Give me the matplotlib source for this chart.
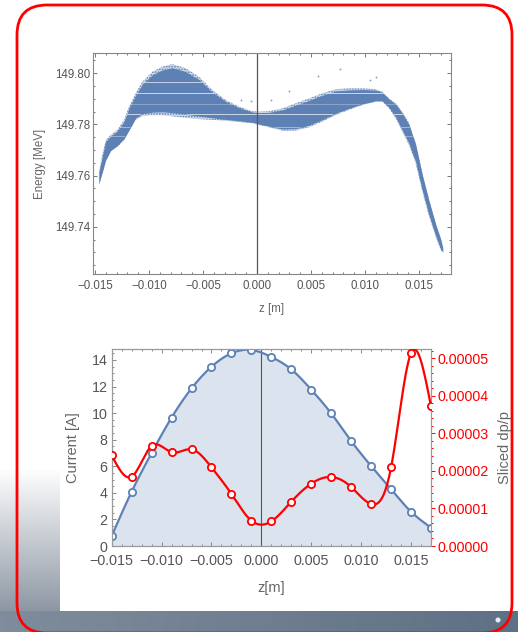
import numpy as np
import matplotlib
matplotlib.use("Agg")
import matplotlib.pyplot as plt
from matplotlib.patches import FancyBboxPatch, Circle
from matplotlib.ticker import MultipleLocator, FuncFormatter

plt.rcParams['font.family'] = ['Liberation Sans', 'DejaVu Sans']
plt.rcParams['hatch.linewidth'] = 0.8

# ---- longitudinal phase space: envelope of the particle cloud ----
band_z = [-0.01463, -0.01432, -0.01401, -0.01355, -0.01293, -0.01231, -0.01185,
          -0.01123, -0.01062, -0.00969, -0.00877, -0.00784, -0.00660, -0.00537,
          -0.00414, -0.00290, -0.00167, -0.00044, 0.00019, 0.00111, 0.00234,
          0.00358, 0.00481, 0.00605, 0.00729, 0.00852, 0.00975, 0.01099, 0.01160,
          0.01222, 0.01284, 0.01345, 0.01407, 0.01469, 0.01530, 0.01593, 0.01654,
          0.01701, 0.01720]
band_lo = [149.7565, 149.7609, 149.7655, 149.7694, 149.7713, 149.7739, 149.7772,
           149.7818, 149.7833, 149.7836, 149.7836, 149.7832, 149.7826, 149.7821,
           149.7818, 149.7814, 149.7810, 149.7805, 149.7798, 149.7789, 149.7776,
           149.7776, 149.7789, 149.7811, 149.7837, 149.7857, 149.7876, 149.7889,
           149.7889, 149.7863, 149.7824, 149.7772, 149.7720, 149.7648, 149.7538,
           149.7440, 149.7362, 149.7310, 149.7300]
band_hi = [149.7616, 149.7681, 149.7739, 149.7759, 149.7779, 149.7818, 149.7870,
           149.7922, 149.7967, 149.8006, 149.8026, 149.8036, 149.8020, 149.7987,
           149.7935, 149.7896, 149.7870, 149.7852, 149.7850, 149.7852, 149.7863,
           149.7883, 149.7902, 149.7922, 149.7938, 149.7941, 149.7941, 149.7938,
           149.7928, 149.7902, 149.7883, 149.7850, 149.7805, 149.7727, 149.7609,
           149.7505, 149.7414, 149.7355, 149.7320]
# isolated particles outside the dense core
stray_z = [0.00565, 0.00766, 0.01100, 0.00296, 0.00127, -0.00151, -0.00058, 0.01050]
stray_E = [149.7989, 149.8017, 149.7984, 149.7932, 149.7896, 149.7896, 149.7890, 149.7975]
# energy levels showing empty rows in the distribution
gap_levels = [149.7967, 149.7924, 149.7879, 149.7840, 149.7791, 149.7756]
gap_alpha = [0.9, 0.95, 0.4, 0.95, 0.6, 0.5]

# ---- slice analysis ----
slice_z = [-0.015, -0.013, -0.011, -0.009, -0.007, -0.005, -0.003, -0.001,
           0.001, 0.003, 0.005, 0.007, 0.009, 0.011, 0.013, 0.015, 0.017]
slice_current = [0.75, 4.09, 7.00, 9.66, 11.86, 13.49, 14.50, 14.75,
                 14.22, 13.29, 11.76, 9.98, 7.90, 6.02, 4.26, 2.58, 1.38]
slice_dpp = [2.415e-5, 1.847e-5, 2.664e-5, 2.495e-5, 2.575e-5, 2.096e-5, 1.385e-5,
             6.75e-6, 6.57e-6, 1.181e-5, 1.661e-5, 1.838e-5, 1.572e-5, 1.119e-5,
             2.096e-5, 5.14e-5, 3.72e-5]

BLUE = '#5e81b5'
RED = '#ff0000'
W, H = 518, 632


def natural_spline(x, y, xs):
    x = np.asarray(x, float)
    y = np.asarray(y, float)
    n = len(x)
    h = np.diff(x)
    A = np.zeros((n, n))
    r = np.zeros(n)
    A[0, 0] = A[-1, -1] = 1.0
    for i in range(1, n - 1):
        A[i, i - 1] = h[i - 1]
        A[i, i] = 2 * (h[i - 1] + h[i])
        A[i, i + 1] = h[i]
        r[i] = 6 * ((y[i + 1] - y[i]) / h[i] - (y[i] - y[i - 1]) / h[i - 1])
    M = np.linalg.solve(A, r)
    idx = np.clip(np.searchsorted(x, xs) - 1, 0, n - 2)
    x0, x1 = x[idx], x[idx + 1]
    hh = x1 - x0
    a = (x1 - xs) / hh
    b = (xs - x0) / hh
    return a * y[idx] + b * y[idx + 1] + ((a**3 - a) * M[idx] + (b**3 - b) * M[idx + 1]) * hh**2 / 6


def zfmt(v, p):
    if abs(v) < 1e-9:
        return '0.000'
    return f'{v:.3f}'.replace('-', '\u2212')


fig = plt.figure(figsize=(W / 100, H / 100), dpi=100)

# ---- slide background ----
bg = fig.add_axes([0, 0, 1, 1], zorder=-5)
img = np.ones((H, W, 3))
rows = np.arange(H)[:, None] * np.ones((1, W))
cols = np.ones((H, 1)) * np.arange(W)[None, :]
t = np.clip((rows - 468) / (611 - 468), 0, 1)
grad = np.array([0.55, 0.59, 0.64])
left = (cols < 60) & (rows >= 468) & (rows < 611)
s = cols / W
strip_l = np.array([0.50, 0.55, 0.61])
strip_r = np.array([0.37, 0.44, 0.52])
strip = rows >= 611
for c in range(3):
    ch = img[:, :, c]
    ch[left] = (1 - t * (1 - grad[c]))[left]
    ch[strip] = (strip_l[c] * (1 - s) + strip_r[c] * s)[strip]
bg.imshow(img, extent=(0, W, H, 0), aspect='auto', interpolation='bilinear')
bg.add_patch(FancyBboxPatch((17, 5), 495, 628, boxstyle='round,pad=0,rounding_size=30',
                            fill=False, ec=RED, lw=2.0))
bg.add_patch(Circle((498, 620), 1.8, color='#e8eef5'))
bg.set_xlim(0, W)
bg.set_ylim(H, 0)
bg.axis('off')

# ---- top panel: energy vs z ----
ax = fig.add_axes([92.7 / W, 1 - 274 / H, (450.7 - 92.7) / W, (274 - 53.3) / H])
bz = np.array(band_z)
lo = np.array(band_lo)
hi = np.array(band_hi)
width = hi - lo
# sparse fringe of the cloud, then the dense core
ax.fill_between(bz, lo, hi, facecolor=(0.37, 0.51, 0.71, 0.30), edgecolor=BLUE,
                hatch='......', lw=0)
core = ax.fill_between(bz, lo + 0.07 * width, hi - 0.07 * width, color=BLUE, lw=0)
core_path = core.get_paths()[0]
for lev, al in zip(gap_levels, gap_alpha):
    ln = ax.axhline(lev, color='white', lw=0.5, alpha=al)
    ln.set_clip_path(core_path, core.get_transform())
ax.plot(stray_z, stray_E, 'o', ms=1.3, mew=0, color=BLUE, alpha=0.8)
ax.axvline(0, color='#555555', lw=0.9)
ax.set_xlim(-0.01521, 0.01793)
ax.set_ylim(149.7216, 149.8078)
ax.xaxis.set_major_locator(MultipleLocator(0.005))
ax.xaxis.set_minor_locator(MultipleLocator(0.001))
ax.yaxis.set_major_locator(MultipleLocator(0.02))
ax.yaxis.set_minor_locator(MultipleLocator(0.005))
ax.xaxis.set_major_formatter(FuncFormatter(zfmt))
ax.yaxis.set_major_formatter(FuncFormatter(lambda v, p: f'{v:.2f}'))
ax.tick_params(which='both', direction='in', top=True, right=True, color='#777777',
               labelcolor='#555555', labelsize=8.3, width=0.7)
ax.tick_params(which='major', length=3.2)
ax.tick_params(which='minor', length=1.6)
ax.tick_params(axis='y', pad=1.5)
ax.tick_params(axis='x', pad=4)
for sp in ax.spines.values():
    sp.set_color('#888888')
    sp.set_linewidth(0.8)
ax.set_xlabel('z [m]', fontsize=8.3, color='#666666', labelpad=8)
ax.set_ylabel('Energy [MeV]', fontsize=8.3, color='#666666', labelpad=7)

# ---- bottom panel: slice current and slice energy spread ----
axb = fig.add_axes([111.7 / W, 1 - 546 / H, (431 - 111.7) / W, (546 - 349.3) / H])
zs = np.linspace(-0.015, 0.017, 600)
cur = natural_spline(slice_z, slice_current, zs)
dpp = natural_spline(slice_z, slice_dpp, zs)
axb.fill_between(zs, 0, cur, color=BLUE, alpha=0.22, lw=0, zorder=1)
axb.axvline(0, color='#555555', lw=0.8, zorder=2)
axb.plot(zs, cur, color=BLUE, lw=1.6, zorder=3)
axb.plot(slice_z, slice_current, 'o', ms=5.2, mfc='white', mec=BLUE, mew=1.3, zorder=4)
axb.set_xlim(-0.015, 0.017)
axb.set_ylim(0, 14.8)
axb.xaxis.set_major_locator(MultipleLocator(0.005))
axb.xaxis.set_minor_locator(MultipleLocator(0.001))
axb.yaxis.set_major_locator(MultipleLocator(2))
axb.yaxis.set_minor_locator(MultipleLocator(0.5))
axb.xaxis.set_major_formatter(FuncFormatter(zfmt))
axb.tick_params(which='both', direction='in', top=True, right=False, color='#888888',
                labelcolor='#555555', labelsize=10.3, width=0.7)
axb.tick_params(which='major', length=3.2)
axb.tick_params(which='minor', length=1.6)
axb.tick_params(axis='y', pad=3)
axb.tick_params(axis='x', pad=6)
axb.set_xlabel('z[m]', fontsize=10.5, color='#666666', labelpad=9)
axb.set_ylabel('Current [A]', fontsize=10.5, color='#666666', labelpad=8)

ax2 = axb.twinx()
ax2.plot(zs, dpp, color=RED, lw=1.6, zorder=3)
ax2.plot(slice_z, slice_dpp, 'o', ms=5.2, mfc='white', mec=RED, mew=1.3, zorder=4)
ax2.set_ylim(0, 5.24e-5)
ax2.yaxis.set_major_locator(MultipleLocator(1e-5))
ax2.yaxis.set_minor_locator(MultipleLocator(2e-6))
ax2.yaxis.set_major_formatter(FuncFormatter(lambda v, p: f'{v:.5f}'))
ax2.tick_params(which='both', direction='out', color=RED, labelcolor=RED,
                labelsize=10.3, width=0.7, pad=1.5)
ax2.tick_params(which='major', length=3.2)
ax2.tick_params(which='minor', length=1.6)
ax2.set_ylabel('Sliced dp/p', fontsize=10.5, color='#666666', labelpad=7)
for a in (axb, ax2):
    for sp in a.spines.values():
        sp.set_color('#999999')
        sp.set_linewidth(0.8)

fig.savefig('out.png', dpi=100)
